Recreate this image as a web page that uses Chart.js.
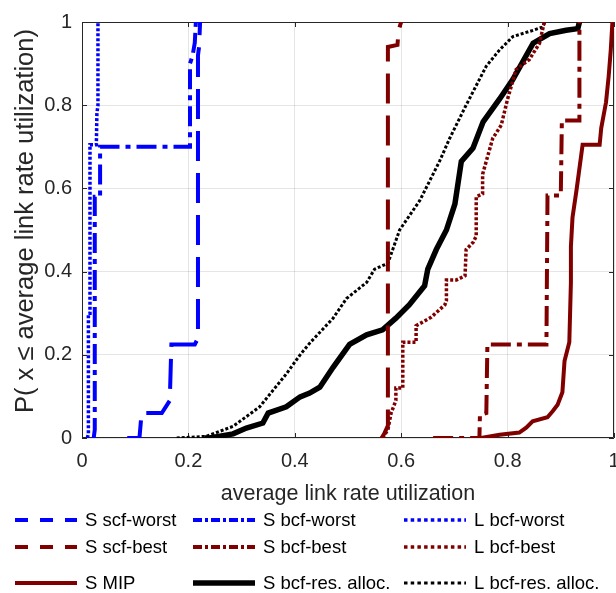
<!DOCTYPE html>
<html lang="en">
<head>
  <meta charset="UTF-8">
  <title>CDF of average link rate utilization</title>
  <script src="https://cdn.jsdelivr.net/npm/chart.js"></script>
  <style>
    body {
      margin: 0;
      background: #ffffff;
    }
    canvas {
      display: block;
    }
  </style>
</head>
<body>

  <canvas id="cdfChart" width="616" height="593"></canvas>

  <script>
    // tick values of both axes
    const xTicks = [0, 0.2, 0.4, 0.6, 0.8, 1];
    const yTicks = [0, 0.2, 0.4, 0.6, 0.8, 1];

    // S scf-worst
    const sScfWorstX = [0.085, 0.108, 0.112, 0.15, 0.165, 0.168, 0.212, 0.218, 0.218, 0.22, 0.222];
    const sScfWorstY = [0, 0, 0.06, 0.06, 0.09, 0.225, 0.225, 0.24, 0.92, 0.94, 1];
    // S bcf-worst
    const sBcfWorstX = [0.022, 0.024, 0.024, 0.034, 0.034, 0.203, 0.203, 0.208, 0.212, 0.214];
    const sBcfWorstY = [0, 0.02, 0.58, 0.58, 0.70, 0.70, 0.90, 0.92, 0.95, 1];
    // L bcf-worst
    const lBcfWorstX = [0.01, 0.012, 0.012, 0.015, 0.015, 0.027, 0.028, 0.03, 0.03];
    const lBcfWorstY = [0, 0.01, 0.30, 0.30, 0.705, 0.705, 0.78, 0.8, 1];
    // S scf-best
    const sScfBestX = [0.563, 0.568, 0.575, 0.575, 0.593, 0.595, 0.6];
    const sScfBestY = [0, 0.01, 0.03, 0.94, 0.945, 0.98, 1];
    // S bcf-best
    const sBcfBestX = [0.66, 0.747, 0.748, 0.76, 0.762, 0.873, 0.875, 0.9, 0.902, 0.935, 0.935];
    const sBcfBestY = [0, 0, 0.055, 0.06, 0.225, 0.225, 0.583, 0.583, 0.763, 0.763, 1];
    // L bcf-best
    const lBcfBestX = [0.565, 0.575, 0.581, 0.59, 0.59, 0.603, 0.603, 0.628, 0.628, 0.656, 0.682, 0.685, 0.685,
                       0.704, 0.72, 0.722, 0.735, 0.741, 0.741, 0.753, 0.753, 0.772, 0.788, 0.80, 0.816, 0.841, 0.86, 0.869];
    const lBcfBestY = [0, 0.02, 0.06, 0.09, 0.12, 0.12, 0.23, 0.23, 0.27, 0.29, 0.32, 0.33, 0.38,
                       0.38, 0.39, 0.453, 0.47, 0.485, 0.58, 0.587, 0.634, 0.72, 0.752, 0.815, 0.886, 0.91, 0.949, 1];
    // S MIP
    const sMipX = [0.75, 0.785, 0.822, 0.835, 0.847, 0.875, 0.885, 0.894, 0.903, 0.907, 0.916, 0.919, 0.919,
                   0.922, 0.93, 0.941, 0.973, 0.976, 0.985, 0.99, 0.994, 0.997];
    const sMipY = [0, 0.008, 0.013, 0.025, 0.04, 0.05, 0.065, 0.08, 0.11, 0.185, 0.23, 0.374, 0.46,
                   0.53, 0.6, 0.705, 0.705, 0.745, 0.807, 0.87, 0.934, 1];
    // S bcf-res. alloc.
    const sResX = [0.23, 0.24, 0.284, 0.309, 0.34, 0.35, 0.384, 0.41, 0.428, 0.447, 0.472, 0.503, 0.535, 0.565,
                   0.59, 0.615, 0.644, 0.65, 0.666, 0.685, 0.701, 0.713, 0.735, 0.754, 0.785, 0.81, 0.848, 0.879,
                   0.91, 0.932, 0.935];
    const sResY = [0, 0, 0.01, 0.024, 0.036, 0.06, 0.075, 0.099, 0.108, 0.122, 0.17, 0.225, 0.248, 0.26,
                   0.288, 0.32, 0.366, 0.406, 0.453, 0.50, 0.563, 0.665, 0.697, 0.76, 0.815, 0.862, 0.949, 0.972,
                   0.98, 0.984, 1];
    // L bcf-res. alloc.
    const lResX = [0.178, 0.234, 0.284, 0.334, 0.384, 0.41, 0.428, 0.472, 0.497, 0.535, 0.55, 0.575, 0.597,
                   0.635, 0.672, 0.691, 0.722, 0.747, 0.76, 0.785, 0.81, 0.848, 0.866, 0.87];
    const lResY = [0, 0.004, 0.028, 0.075, 0.154, 0.2, 0.228, 0.288, 0.335, 0.374, 0.406, 0.42, 0.50,
                   0.571, 0.665, 0.72, 0.80, 0.862, 0.894, 0.933, 0.965, 0.98, 0.988, 1];

    const BLUE = '#0000ff';
    const RED = '#800000';
    const BLACK = '#000000';
    const AXIS = '#262626';
    const FONT = "'Liberation Sans', Arial, sans-serif";

    // dash patterns in the plot and in the legend samples
    const plotDash = { solid: [], dashed: [30, 12], dashdot: [20, 6, 5, 6], dotted: [3, 2] };
    const legendDash = { solid: [], dashed: [13, 12], dashdot: [9, 3, 3, 3], dotted: [3.5, 3.2] };

    // legend order is row by row (3 columns)
    const series = [
      { label: 'S scf-worst', xs: sScfWorstX, ys: sScfWorstY, color: BLUE, style: 'dashed', width: 4 },
      { label: 'S bcf-worst', xs: sBcfWorstX, ys: sBcfWorstY, color: BLUE, style: 'dashdot', width: 4 },
      { label: 'L bcf-worst', xs: lBcfWorstX, ys: lBcfWorstY, color: BLUE, style: 'dotted', width: 3.5 },
      { label: 'S scf-best', xs: sScfBestX, ys: sScfBestY, color: RED, style: 'dashed', width: 4 },
      { label: 'S bcf-best', xs: sBcfBestX, ys: sBcfBestY, color: RED, style: 'dashdot', width: 4 },
      { label: 'L bcf-best', xs: lBcfBestX, ys: lBcfBestY, color: RED, style: 'dotted', width: 3.5 },
      { label: 'S MIP', xs: sMipX, ys: sMipY, color: RED, style: 'solid', width: 4 },
      { label: 'S bcf-res. alloc.', xs: sResX, ys: sResY, color: BLACK, style: 'solid', width: 5.5 },
      { label: 'L bcf-res. alloc.', xs: lResX, ys: lResY, color: BLACK, style: 'dotted', width: 3 }
    ];

    const datasets = series.map(s => ({
      label: s.label,
      data: s.xs.map((x, i) => ({ x: x, y: s.ys[i] })),
      borderColor: s.color,
      backgroundColor: s.color,
      borderWidth: s.width,
      borderDash: plotDash[s.style],
      showLine: true,
      pointRadius: 0,
      tension: 0,
      fill: false
    }));

    // box around the plot with inward ticks (MATLAB look)
    const boxPlugin = {
      id: 'box',
      beforeDatasetsDraw(chart) {
        const { ctx, chartArea: a, scales } = chart;
        ctx.save();
        ctx.strokeStyle = AXIS;
        ctx.lineWidth = 1;
        ctx.beginPath();
        ctx.rect(a.left + 0.5, a.top + 0.5, a.right - a.left - 1, a.bottom - a.top - 1);
        xTicks.forEach(v => {
          const px = Math.round(scales.x.getPixelForValue(v)) + 0.5;
          ctx.moveTo(px, a.bottom); ctx.lineTo(px, a.bottom - 5);
          ctx.moveTo(px, a.top); ctx.lineTo(px, a.top + 5);
        });
        yTicks.forEach(v => {
          const py = Math.round(scales.y.getPixelForValue(v)) + 0.5;
          ctx.moveTo(a.left, py); ctx.lineTo(a.left + 5, py);
          ctx.moveTo(a.right, py); ctx.lineTo(a.right - 5, py);
        });
        ctx.stroke();
        ctx.restore();
      }
    };

    // legend below the axes, 3 columns x 3 rows
    const legendCols = [15, 193, 404];
    const legendRows = [520, 547, 583];
    const legendPlugin = {
      id: 'gridLegend',
      afterDraw(chart) {
        const ctx = chart.ctx;
        ctx.save();
        ctx.font = '18.5px ' + FONT;
        ctx.textBaseline = 'middle';
        ctx.textAlign = 'left';
        series.forEach((s, i) => {
          const x0 = legendCols[i % 3];
          const y0 = legendRows[Math.floor(i / 3)];
          ctx.strokeStyle = s.color;
          ctx.lineWidth = s.width;
          ctx.setLineDash(legendDash[s.style]);
          ctx.beginPath();
          ctx.moveTo(x0, y0);
          ctx.lineTo(x0 + 62, y0);
          ctx.stroke();
          ctx.setLineDash([]);
          ctx.fillStyle = '#000000';
          ctx.fillText(s.label, x0 + 70, y0 + 1);
        });
        ctx.restore();
      }
    };

    const fmt = v => Number(v.toFixed(1)).toString();

    const ctx = document.getElementById('cdfChart').getContext('2d');
    const chart = new Chart(ctx, {
      type: 'scatter',
      data: { datasets: datasets },
      options: {
        responsive: false,
        animation: false,
        layout: { padding: { left: 0, right: 2, top: 15, bottom: 85 } },
        scales: {
          x: {
            type: 'linear',
            min: 0,
            max: 1,
            afterFit(s) { s.height = 70; s.paddingRight = 0; s.paddingLeft = 0; },
            afterBuildTicks(s) { s.ticks = xTicks.map(v => ({ value: v })); },
            ticks: { color: AXIS, font: { family: FONT, size: 20 }, padding: 11, callback: fmt, maxRotation: 0 },
            grid: { color: 'rgba(38,38,38,0.12)', drawTicks: false },
            border: { display: false },
            title: {
              display: true,
              text: 'average link rate utilization',
              color: AXIS,
              font: { family: FONT, size: 21.5 },
              padding: { top: 0, bottom: 1 }
            }
          },
          y: {
            type: 'linear',
            min: 0,
            max: 1,
            afterFit(s) { s.width = 82; },
            afterBuildTicks(s) { s.ticks = yTicks.map(v => ({ value: v })); },
            ticks: { color: AXIS, font: { family: FONT, size: 20 }, padding: 10, callback: fmt },
            grid: { color: 'rgba(38,38,38,0.12)', drawTicks: false },
            border: { display: false },
            title: {
              display: true,
              text: 'P( x \u2264 average link rate utilization) ',
              align: 'end',
              color: AXIS,
              font: { family: FONT, size: 25.5 },
              padding: { top: 11, bottom: 0 }
            }
          }
        },
        plugins: {
          legend: { display: false },
          tooltip: { enabled: false }
        }
      },
      plugins: [boxPlugin, legendPlugin]
    });
  </script>
</body>
</html>
